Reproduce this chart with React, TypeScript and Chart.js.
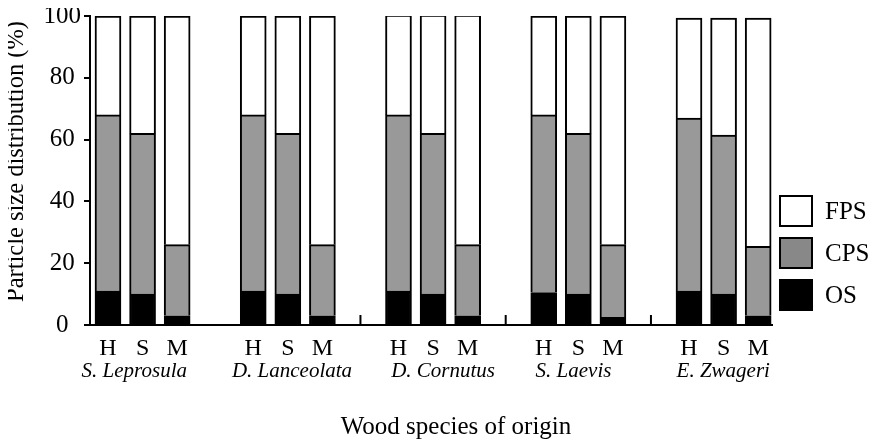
import React, { useEffect, useRef } from "react";
import { Chart, registerables } from "chart.js";

Chart.register(...registerables);

const species = ["S. Leprosula", "D. Lanceolata", "D. Cornutus", "S. Laevis", "E. Zwageri"];
const speciesOffsets = [0.76, 1.12, 1.29, 0.86, 0.99];
const barLabels = ["H", "S", "M"];
const osValues = [11, 10, 3, 11, 10, 3, 11, 10, 3, 10.5, 10, 2.5, 11, 10, 3];
const cpsValues = [57, 52, 23, 57, 52, 23, 57, 52, 23, 57.5, 52, 23.5, 56, 51.5, 22.5];
const fpsValues = [32, 38, 74, 32, 38, 74, 32.3, 38.3, 74.3, 32, 38, 74, 32.3, 37.8, 73.8];
const yTicks = [0, 20, 40, 60, 80, 100];
const groupGap = 4.2;
const separators = [7.3, 11.5, 15.7];
const xTitle = "Wood species of origin";
const yTitle = "Particle size distribution (%)";

const FONT = "'Liberation Serif', 'Times New Roman', serif";

const positions: number[] = [];
species.forEach((_, g) => barLabels.forEach((__, b) => positions.push(g * groupGap + b)));
const speciesPositions = species.map((_, g) => g * groupGap + speciesOffsets[g]);

const toPoints = (vals: number[]) => vals.map((v, i) => ({ x: positions[i], y: v }));

const legendPlugin = {
  id: "customLegend",
  afterDraw(chart: any) {
    const ctx = chart.ctx;
    const area = chart.chartArea;
    const items = [...chart.data.datasets].reverse();
    const x0 = area.right + 8;
    const y0 = area.top + 180;
    ctx.save();
    ctx.font = `25px ${FONT}`;
    ctx.textBaseline = "middle";
    ctx.textAlign = "left";
    items.forEach((ds: any, i: number) => {
      const y = y0 + i * 42;
      ctx.fillStyle = ds.legendColor || ds.backgroundColor;
      ctx.fillRect(x0, y, 32, 30);
      ctx.lineWidth = 2;
      ctx.strokeStyle = "#000";
      ctx.strokeRect(x0, y, 32, 30);
      ctx.fillStyle = "#000";
      ctx.fillText(ds.label, x0 + 45, y + 16);
    });
    ctx.restore();
  },
};

const decorPlugin = {
  id: "decor",
  afterDatasetsDraw(chart: any) {
    const ctx = chart.ctx;
    const xs = chart.scales.x;
    const area = chart.chartArea;
    ctx.save();
    ctx.strokeStyle = "#000";
    ctx.lineWidth = 2;
    separators.forEach((v) => {
      const px = xs.getPixelForValue(v);
      ctx.beginPath();
      ctx.moveTo(px, area.bottom);
      ctx.lineTo(px, area.bottom - 10);
      ctx.stroke();
    });
    ctx.fillStyle = "#000";
    ctx.font = `25px ${FONT}`;
    ctx.textAlign = "center";
    ctx.textBaseline = "alphabetic";
    ctx.fillText(xTitle, (area.left + area.right) / 2 + 25, area.bottom + 109);
    ctx.font = `24.5px ${FONT}`;
    ctx.textBaseline = "middle";
    ctx.translate(area.left - 73, (area.top + area.bottom) / 2 - 9);
    ctx.rotate(-Math.PI / 2);
    ctx.fillText(yTitle, 0, 0);
    ctx.restore();
  },
};

export default function App() {
  const ref = useRef<HTMLCanvasElement>(null);
  useEffect(() => {
    if (!ref.current) return;
    const chart = new Chart(ref.current, {
      type: "bar",
      data: {
        datasets: [
          { label: "OS", data: toPoints(osValues), backgroundColor: "#000000", borderColor: "#000", borderWidth: 2, barThickness: 26 },
          { label: "CPS", data: toPoints(cpsValues), backgroundColor: "#999999", legendColor: "#888888", borderColor: "#000", borderWidth: 2, barThickness: 26 } as any,
          { label: "FPS", data: toPoints(fpsValues), backgroundColor: "#ffffff", borderColor: "#000", borderWidth: 2, barThickness: 26 },
        ],
      },
      options: {
        animation: false,
        responsive: true,
        maintainAspectRatio: false,
        layout: { padding: { top: 16, right: 96, bottom: 0, left: 8 } },
        plugins: { legend: { display: false }, tooltip: { enabled: false } },
        scales: {
          x: {
            type: "linear",
            stacked: true,
            offset: false,
            min: -0.52,
            max: 19.2,
            position: "bottom",
            grid: { display: false, drawTicks: false, offset: false },
            border: { display: true, color: "#000", width: 2 },
            afterBuildTicks: (scale: any) => {
              scale.ticks = positions.map((v) => ({ value: v }));
            },
            afterFit: (scale: any) => {
              scale.height = 33;
            },
            ticks: {
              autoSkip: false,
              maxRotation: 0,
              padding: 9,
              color: "#000",
              font: { family: FONT, size: 24 },
              callback: (_v: any, i: number) => barLabels[i % 3],
            },
          },
          x2: {
            type: "linear",
            offset: false,
            min: -0.52,
            max: 19.2,
            position: "bottom",
            grid: { display: false, drawTicks: false, offset: false },
            border: { display: false },
            afterBuildTicks: (scale: any) => {
              scale.ticks = speciesPositions.map((v) => ({ value: v }));
            },
            afterFit: (scale: any) => {
              scale.height = 85;
            },
            ticks: {
              autoSkip: false,
              maxRotation: 0,
              padding: 1,
              color: "#000",
              font: { family: FONT, size: 21, style: "italic" },
              callback: (_v: any, i: number) => species[i],
            },
          },
          y: {
            stacked: true,
            min: 0,
            max: 100,
            grid: { drawOnChartArea: false, drawTicks: true, tickLength: 6, color: "#000", lineWidth: 2 },
            border: { display: true, color: "#000", width: 2 },
            afterBuildTicks: (scale: any) => {
              scale.ticks = yTicks.map((v) => ({ value: v }));
            },
            afterFit: (scale: any) => {
              scale.width = 82;
            },
            ticks: {
              color: "#000",
              padding: 3,
              crossAlign: "center",
              font: { family: FONT, size: 25, lineHeight: 0.4 },
            },
          },
        },
      },
      plugins: [decorPlugin, legendPlugin],
    } as any);
    return () => chart.destroy();
  }, []);
  return (
    <div style={{ width: 868, height: 443, position: "relative", top: -8, left: -8 }}>
      <canvas ref={ref} />
    </div>
  );
}
